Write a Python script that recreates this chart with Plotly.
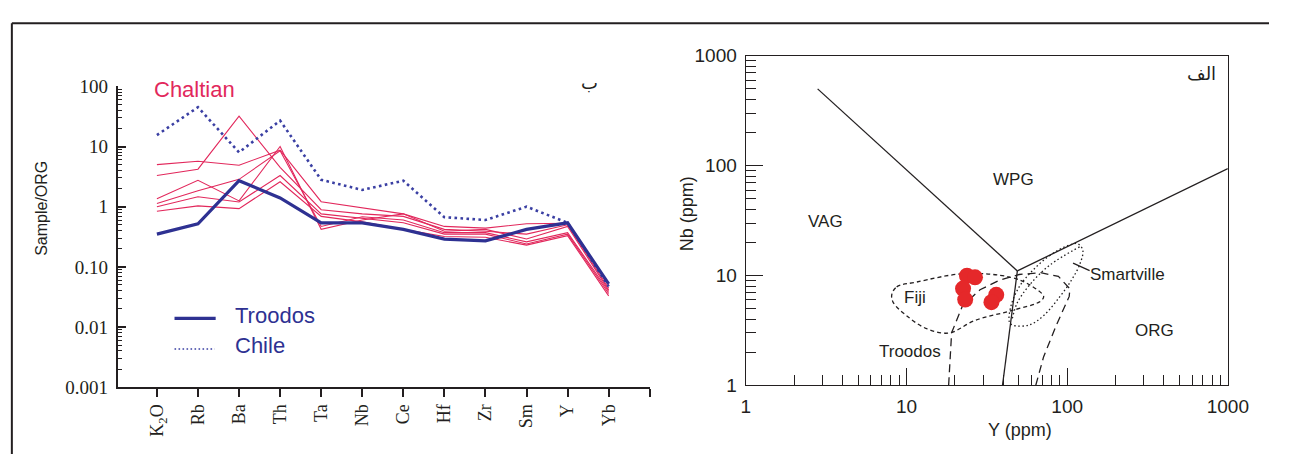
import plotly.graph_objects as go

W, H = 1290, 465

# ---------------- Left chart data (Sample / ORG) ----------------
elements = ["K<sub>2</sub>O", "Rb", "Ba", "Th", "Ta", "Nb", "Ce", "Hf", "Zr", "Sm", "Y", "Yb"]
troodos = [0.35, 0.52, 2.7, 1.4, 0.54, 0.54, 0.42, 0.29, 0.27, 0.42, 0.54, 0.052]
chile = [15.5, 45, 8.0, 27, 2.8, 1.9, 2.7, 0.67, 0.60, 1.0, 0.54, 0.047]
chaltian_1 = [5.0, 5.7, 4.9, 8.7, 1.21, 0.97, 0.76, 0.47, 0.44, 0.52, 0.53, 0.049]
chaltian_2 = [3.3, 4.2, 32, 4.5, 0.89, 0.76, 0.69, 0.42, 0.39, 0.35, 0.50, 0.044]
chaltian_3 = [1.35, 2.75, 1.25, 10, 0.42, 0.60, 0.76, 0.39, 0.42, 0.29, 0.47, 0.041]
chaltian_4 = [1.13, 1.84, 2.85, 8.5, 0.47, 0.68, 0.60, 0.37, 0.37, 0.26, 0.37, 0.039]
chaltian_5 = [1.0, 1.46, 1.2, 3.3, 0.76, 0.64, 0.54, 0.35, 0.35, 0.24, 0.35, 0.036]
chaltian_6 = [0.84, 1.03, 0.93, 2.6, 0.69, 0.56, 0.42, 0.32, 0.31, 0.23, 0.33, 0.033]
y_tickvals = [0.001, 0.01, 0.1, 1, 10, 100]
y_ticktext = ["0.001", "0.01", "0.10", "1", "10", "100"]

# ---------------- Right chart data (Nb vs Y) ----------------
vag_wpg_y = [2.8, 49]
vag_wpg_nb = [500, 11]
wpg_org_y = [49, 1000]
wpg_org_nb = [11, 94]
vag_org_y = [49, 39.6]
vag_org_nb = [11, 1]

fiji_y = [8.1, 8.69, 11.5, 23.2, 44.7, 59.2, 71.4, 68.2, 44.7, 26.7, 18.4, 13.2, 10.0, 8.3, 8.1]
fiji_nb = [6.66, 7.87, 8.69, 10.4, 9.61, 8.13, 6.44, 5.82, 4.77, 3.9, 2.99, 3.3, 4.31, 5.63, 6.66]

troodos_f_y = [18.3, 19.1, 22.3, 28.7, 37.9, 50.3, 68.4, 88.2, 104, 103, 85.7, 71.4, 63.8]
troodos_f_nb = [1.0, 3.01, 5.27, 7.41, 9.05, 10.2, 10.6, 9.8, 7.56, 6.44, 3.53, 1.82, 1.0]

smart_y = [103.9, 78.4, 60.6, 50.3, 44.7, 43.7, 45.8, 57.8, 71.4, 90.3, 106, 119.5, 125.2, 116.7, 103.9]
smart_nb = [19.0, 15.3, 11.0, 7.87, 5.27, 3.77, 3.53, 3.53, 4.31, 6.44, 9.0, 12.5, 16.9, 19.4, 19.0]
smart_inner_y = [119.5, 78.4, 59.2, 48.9, 45.6]
smart_inner_nb = [18.2, 12.5, 8.4, 5.63, 4.06]
smart_leader_y = [108.8, 138]
smart_leader_nb = [12.97, 11.06]

samples_y = [23.8, 26.7, 22.5, 23.2, 36.2, 33.8]
samples_nb = [9.94, 9.61, 7.6, 6.03, 6.66, 5.71]

# ---------------- styles ----------------
BLUE = "#2e3192"
BLUE_DOT = "#3a3fa3"
RED = "#e2285c"
INK = "#231f20"
SERIF = "Liberation Serif"
SANS = "Liberation Sans"


def px(x):
    return x / W


def py(y):
    return 1 - y / H


fig = go.Figure()

idx = list(range(len(elements)))
for s in [chaltian_1, chaltian_2, chaltian_3, chaltian_4, chaltian_5, chaltian_6]:
    fig.add_trace(go.Scatter(x=idx, y=s, mode="lines", line=dict(color=RED, width=1.1),
                             xaxis="x", yaxis="y", showlegend=False, hoverinfo="skip"))
fig.add_trace(go.Scatter(x=idx, y=chile, mode="lines", line=dict(color=BLUE_DOT, width=2.6, dash="2.6px,3.4px"),
                         xaxis="x", yaxis="y", showlegend=False))
fig.add_trace(go.Scatter(x=idx, y=troodos, mode="lines", line=dict(color=BLUE, width=3.2),
                         xaxis="x", yaxis="y", showlegend=False))

# right chart
for xs, ys in [(vag_wpg_y, vag_wpg_nb), (wpg_org_y, wpg_org_nb), (vag_org_y, vag_org_nb),
               (smart_leader_y, smart_leader_nb)]:
    fig.add_trace(go.Scatter(x=xs, y=ys, mode="lines", line=dict(color=INK, width=1.3),
                             xaxis="x2", yaxis="y2", showlegend=False))
fig.add_trace(go.Scatter(x=fiji_y, y=fiji_nb, mode="lines", line=dict(color=INK, width=1.3, dash="4px,3px"),
                         xaxis="x2", yaxis="y2", showlegend=False, line_shape="spline"))
fig.add_trace(go.Scatter(x=troodos_f_y, y=troodos_f_nb, mode="lines", line=dict(color=INK, width=1.3, dash="8px,5px"),
                         xaxis="x2", yaxis="y2", showlegend=False))
fig.add_trace(go.Scatter(x=smart_y, y=smart_nb, mode="lines", line=dict(color=INK, width=1.3, dash="1.5px,2.5px"),
                         xaxis="x2", yaxis="y2", showlegend=False, line_shape="spline"))
fig.add_trace(go.Scatter(x=smart_inner_y, y=smart_inner_nb, mode="lines", line=dict(color=INK, width=1.3, dash="1.5px,2.5px"),
                         xaxis="x2", yaxis="y2", showlegend=False, line_shape="spline"))
fig.add_trace(go.Scatter(x=samples_y, y=samples_nb, mode="markers",
                         marker=dict(color="#e5282a", size=16, line=dict(width=0)),
                         xaxis="x2", yaxis="y2", showlegend=False))

fig.update_layout(
    width=W, height=H, margin=dict(l=0, r=0, t=0, b=0),
    paper_bgcolor="white", plot_bgcolor="white", showlegend=False,
    xaxis=dict(domain=[px(115), px(658)], range=[-0.955, 12.0], tickmode="array",
               tickvals=idx, ticktext=elements, tickangle=-90,
               ticks="outside", ticklen=8, tickwidth=2, tickcolor=INK,
               minor=dict(ticks="outside", ticklen=8, tickwidth=2, tickcolor=INK, tick0=0, dtick=1, showgrid=False),
               showline=True, linecolor=INK, linewidth=2, showgrid=False, zeroline=False,
               tickfont=dict(family=SERIF, size=18, color=INK), anchor="y"),
    yaxis=dict(domain=[py(395), py(80)], type="log", range=[-3, 2], tickmode="array",
               tickvals=y_tickvals, ticktext=y_ticktext,
               ticks="inside", ticklen=8, tickwidth=2, tickcolor=INK,
               minor=dict(ticks="inside", ticklen=4, tickwidth=1, tickcolor=INK, dtick="D1", showgrid=False),
               showline=True, linecolor=INK, linewidth=2, showgrid=False, zeroline=False,
               ticklabelstandoff=4,
               tickfont=dict(family=SERIF, size=19, color=INK), anchor="x"),
    xaxis2=dict(domain=[px(756), px(1248)], type="log", range=[0, 3],
                tickmode="array", tickvals=[1, 10, 100, 1000], ticktext=["1", "10", "100", "1000"],
                ticks="inside", ticklen=17, tickwidth=1.3, tickcolor=INK,
                minor=dict(ticks="inside", ticklen=10, tickwidth=1.3, tickcolor=INK, dtick="D1", showgrid=False),
                showline=True, mirror=True, linecolor=INK, linewidth=1.3, showgrid=False, zeroline=False,
                ticklabelstandoff=4,
                tickfont=dict(family=SANS, size=19, color=INK), anchor="y2"),
    yaxis2=dict(domain=[py(393), py(48)], type="log", range=[0, 3],
                tickmode="array", tickvals=[1, 10, 100, 1000], ticktext=["1", "10", "100", "1000"],
                ticks="inside", ticklen=17, tickwidth=1.3, tickcolor=INK,
                minor=dict(ticks="inside", ticklen=10, tickwidth=1.3, tickcolor=INK, dtick="D1", showgrid=False),
                showline=True, mirror=True, linecolor=INK, linewidth=1.3, showgrid=False, zeroline=False,
                ticklabelstandoff=4,
                tickfont=dict(family=SANS, size=19, color=INK), anchor="x2"),
)


def label(text, x, y, size=17, color=INK, family=SANS, angle=0, xanchor="center"):
    fig.add_annotation(text=text, x=px(x), y=py(y), xref="paper", yref="paper", showarrow=False,
                       font=dict(family=family, size=size, color=color), textangle=angle,
                       xanchor=xanchor, yanchor="middle")


# left chart texts
label("Chaltian", 193, 83, size=22, color=RED)
label("ب", 597, 76, size=18, family="DejaVu Sans")
label("Sample/ORG", 37, 208, size=16, angle=-90)
label("Troodos", 233, 320, size=22, color=BLUE, xanchor="left")
label("Chile", 233, 351, size=22, color=BLUE, xanchor="left")

# legend glyphs
fig.add_shape(type="line", xref="paper", yref="paper", x0=px(173), x1=px(215), y0=py(323), y1=py(323),
              line=dict(color=BLUE, width=3.2))
fig.add_shape(type="line", xref="paper", yref="paper", x0=px(173), x1=px(214), y0=py(355), y1=py(355),
              line=dict(color=BLUE_DOT, width=1.6, dash="1.6px,2.4px"))

# right chart texts
label("VAG", 837, 221)
label("WPG", 1029, 177)
label("Fiji", 929, 301)
label("Troodos", 924, 358)
label("Smartville", 1146, 277)
label("ORG", 1173, 336)
label("الف", 1221, 67, size=18, family="DejaVu Sans")
label("Nb (ppm)", 696, 213, size=18, angle=-90)
label("Y (ppm)", 1036, 440, size=18)

# outer frame
fig.add_shape(type="line", xref="paper", yref="paper", x0=px(7), x1=1, y0=py(14), y1=py(14),
              line=dict(color=INK, width=2))
fig.add_shape(type="line", xref="paper", yref="paper", x0=px(7), x1=px(7), y0=py(14), y1=0,
              line=dict(color=INK, width=2))

fig.write_html("out.html")
